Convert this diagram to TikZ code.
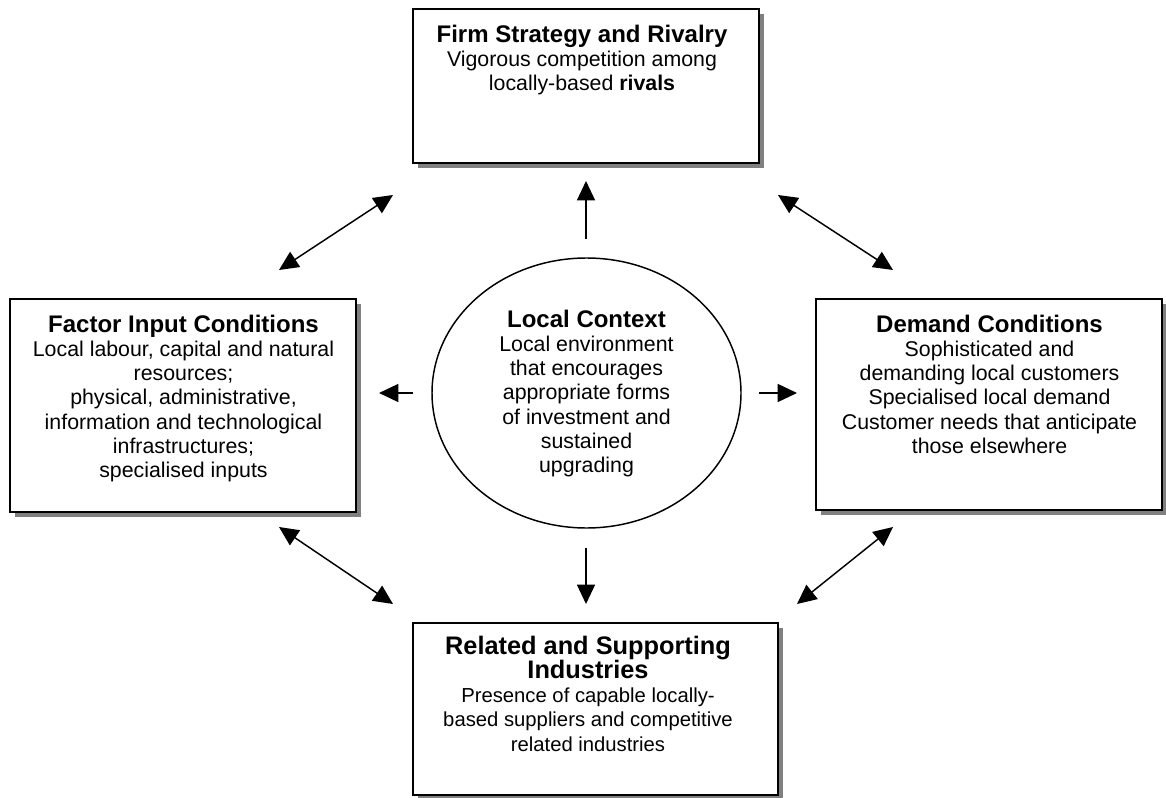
\documentclass[tikz,border=0pt]{standalone}
\usepackage{fontspec}
\setmainfont{Liberation Sans}
\usetikzlibrary{fit,shapes.geometric,shadows,arrows.meta}
\newcommand{\ttl}[1]{{\fontsize{18}{18.2}\selectfont\bfseries #1}}
\tikzset{
  box/.style={draw=black, line width=1.5pt, fill=white, inner sep=0pt,
    drop shadow={shadow xshift=3.9pt, shadow yshift=-3.9pt, fill=black!50, opacity=1}},
  oval/.style={draw=black, line width=1.1pt, ellipse, inner sep=0pt,
    minimum width=231.75pt, minimum height=202.5pt},
  txt/.style={align=center, inner sep=0pt, anchor=north,
    font=\fontsize{16}{18.2}\selectfont},
  one/.style={line width=1.1pt, -{Triangle[length=14.5pt,width=13.5pt]}},
  two/.style={line width=1.1pt, {Triangle[length=14.5pt,width=13.5pt]}-{Triangle[length=14.5pt,width=13.5pt]}},
}
\begin{document}
\begin{tikzpicture}[x=0.75pt, y=-0.75pt]
\useasboundingbox (0,0) rectangle (1166,798);
% boxes
\node[box, fit={(413,9) (759,163)}] (fsr) {};
\node[box, fit={(10,299) (356,512)}] (fic) {};
\node[box, fit={(816,299) (1162,510)}] (dc) {};
\node[box, fit={(413,623) (778,795)}] (rsi) {};
\node[oval] (lc) at (586.5,393) {};
% texts
\node[txt] (fsrt) at (582,24.5) {\ttl{Firm Strategy and Rivalry}\\
  Vigorous competition among\\
  locally-based \textbf{rivals}};
\node[txt] (fict) at (183.5,314.5) {\ttl{Factor Input Conditions}\\ Local labour, capital and natural\\ resources;\\ physical, administrative,\\ information and technological\\ infrastructures;\\ specialised inputs};
\node[txt] (dct) at (989.5,314.5) {\ttl{Demand Conditions}\\ Sophisticated and\\ demanding local customers\\ Specialised local demand\\ Customer needs that anticipate\\ those elsewhere};
\node[txt, font=\fontsize{15.2}{18.2}\selectfont] (rsit) at (588,635.5) {{\fontsize{19}{18.2}\selectfont\bfseries Related and Supporting}\\ {\fontsize{19}{18.2}\selectfont\bfseries Industries}\\ Presence of capable locally-\\ based suppliers and competitive\\ related industries};
\node[txt] (lct) at (586.5,309.5) {\ttl{Local Context}\\ Local environment\\ that encourages\\ appropriate forms\\ of investment and\\ sustained\\ upgrading};
% arrow end points
\coordinate (upA) at (586,239);  \coordinate (upB) at (586,181);
\coordinate (dnA) at (586,548);  \coordinate (dnB) at (586,604);
\coordinate (lfA) at (413,393);  \coordinate (lfB) at (379,393);
\coordinate (rtA) at (759,393);  \coordinate (rtB) at (797,393);
\coordinate (ulA) at (279,270);  \coordinate (ulB) at (393,195);
\coordinate (urA) at (778,195);  \coordinate (urB) at (893,270);
\coordinate (llA) at (279,527);  \coordinate (llB) at (393,604);
\coordinate (lrA) at (893,527);  \coordinate (lrB) at (797,604);
% connectors
\draw[one] (upA) -- (upB);
\draw[one] (dnA) -- (dnB);
\draw[one] (lfA) -- (lfB);
\draw[one] (rtA) -- (rtB);
\draw[two] (ulA) -- (ulB);
\draw[two] (urA) -- (urB);
\draw[two] (llA) -- (llB);
\draw[two] (lrA) -- (lrB);
\end{tikzpicture}
\end{document}
